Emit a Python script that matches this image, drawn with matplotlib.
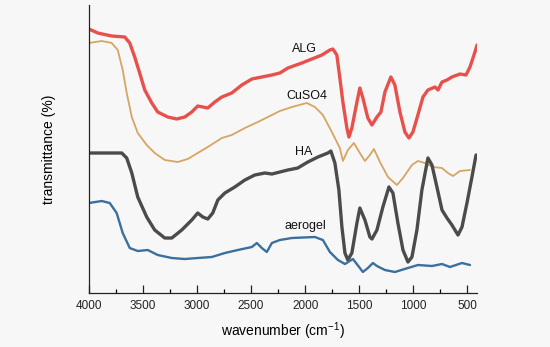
import matplotlib
matplotlib.use("Agg")
import matplotlib.pyplot as plt
from matplotlib.ticker import MultipleLocator

# FTIR spectra (wavenumber in cm-1, transmittance in arbitrary offset units)
alg_wn = [4000, 3919, 3790, 3669, 3623, 3577, 3531, 3484, 3419, 3364, 3271, 3188, 3114,
          3049, 2994, 2947, 2901, 2836, 2771, 2679, 2586, 2493, 2401, 2308, 2234, 2160,
          2031, 1938, 1845, 1771, 1744, 1707, 1679, 1651, 1614, 1595, 1568, 1521, 1494,
          1466, 1420, 1382, 1336, 1299, 1262, 1207, 1170, 1123, 1077, 1040, 1003, 957,
          910, 864, 799, 771, 734, 688, 642, 568, 512, 475, 429, 410]
alg_t = [264, 260, 257, 256, 250, 236, 220, 203, 190, 181, 176, 174, 176,
         181, 187, 186, 185, 191, 196, 200, 208, 214, 216, 218, 220, 225,
         230, 234, 238, 243, 244, 238, 215, 191, 165, 156, 165, 191, 205,
         195, 175, 168, 176, 181, 201, 216, 208, 181, 161, 155, 161, 178,
         196, 203, 206, 203, 211, 213, 216, 219, 218, 226, 241, 248]

cuso4_wn = [4000, 3882, 3790, 3734, 3688, 3651, 3604, 3549, 3466, 3392, 3299, 3179, 3086,
            2994, 2901, 2771, 2679, 2558, 2438, 2308, 2234, 2123, 1984, 1910, 1836, 1753,
            1679, 1651, 1605, 1549, 1494, 1447, 1401, 1364, 1308, 1234, 1151, 1095, 1012,
            957, 892, 818, 734, 679, 632, 568, 475]
cuso4_t = [250, 252, 250, 243, 223, 200, 176, 160, 148, 140, 133, 131, 134,
           140, 146, 155, 158, 165, 171, 178, 182, 186, 190, 186, 178, 161,
           145, 132, 143, 150, 140, 132, 138, 144, 131, 116, 108, 115, 128,
           132, 130, 126, 125, 120, 117, 122, 123]

ha_wn = [4000, 3697, 3651, 3604, 3549, 3466, 3392, 3299, 3234, 3142, 3049, 2994, 2947,
         2901, 2855, 2808, 2743, 2651, 2558, 2466, 2373, 2308, 2234, 2160, 2068, 1975,
         1882, 1790, 1762, 1725, 1688, 1660, 1632, 1605, 1568, 1521, 1494, 1447, 1401,
         1382, 1336, 1281, 1225, 1188, 1142, 1095, 1049, 1012, 966, 920, 864, 827, 781,
         734, 688, 642, 586, 549, 503, 457, 419]
ha_t = [140, 140, 135, 120, 96, 76, 63, 55, 55, 63, 73, 80, 76,
        74, 80, 93, 100, 106, 113, 118, 120, 119, 121, 123, 125, 131,
        136, 140, 142, 130, 103, 66, 40, 33, 40, 70, 85, 73, 56,
        54, 63, 86, 106, 100, 70, 43, 31, 36, 63, 103, 135, 128, 106,
        83, 75, 68, 58, 66, 90, 116, 138]

aerogel_wn = [4000, 3882, 3808, 3744, 3688, 3623, 3549, 3456, 3364, 3234, 3114, 2994, 2864,
              2743, 2623, 2493, 2447, 2401, 2355, 2308, 2234, 2123, 1910, 1836, 1771, 1697,
              1632, 1558, 1494, 1466, 1420, 1373, 1336, 1262, 1170, 1049, 957, 827, 734,
              660, 549, 475]
aerogel_t = [90, 92, 90, 80, 60, 45, 42, 43, 38, 35, 34, 35, 36,
             40, 43, 46, 50, 45, 41, 50, 53, 55, 56, 53, 41, 33,
             29, 34, 25, 21, 25, 30, 27, 23, 21, 25, 28, 27, 29,
             26, 30, 28]

series = [
    ("ALG", alg_wn, alg_t, "#e8514b", 2.4, 2010, 244),
    ("CuSO4", cuso4_wn, cuso4_t, "#d6a562", 1.3, 1985, 197),
    ("HA", ha_wn, ha_t, "#4b4b4b", 2.4, 2010, 141),
    ("aerogel", aerogel_wn, aerogel_t, "#3b6f9e", 1.7, 2000, 67),
]

plt.rcParams['font.family'] = ['Liberation Sans', 'DejaVu Sans']
plt.rcParams['mathtext.default'] = 'regular'

bg = "#f7f7f7"
fig = plt.figure(figsize=(5.5, 3.47), dpi=100, facecolor=bg)
ax = fig.add_axes([0.1618, 0.1556, 0.7055, 0.83], facecolor=bg)

for name, wn, t, color, lw, tx, ty in series:
    ax.plot(wn, t, color=color, lw=lw, solid_joinstyle='round', solid_capstyle='round')
    ax.text(tx, ty, name, fontsize=9, ha='center', va='center', color='#111111')

ax.set_xlim(4000, 410)
ax.set_ylim(0, 288)
ax.xaxis.set_major_locator(MultipleLocator(500))
ax.xaxis.set_minor_locator(MultipleLocator(250))
ax.tick_params(axis='x', which='major', direction='in', length=6, width=0.9,
               labelsize=8.5, pad=5, colors='#222222')
ax.tick_params(axis='x', which='minor', direction='in', length=3, width=0.9)
ax.set_yticks([])
for side in ['top', 'right']:
    ax.spines[side].set_visible(False)
for side in ['left', 'bottom']:
    ax.spines[side].set_linewidth(0.9)
    ax.spines[side].set_color('#222222')

ax.set_xlabel('wavenumber (cm$^{-1}$)', fontsize=10, labelpad=6)
ax.set_ylabel('transmittance (%)', fontsize=10, labelpad=24)

fig.savefig("out.png", dpi=100, facecolor=bg)
